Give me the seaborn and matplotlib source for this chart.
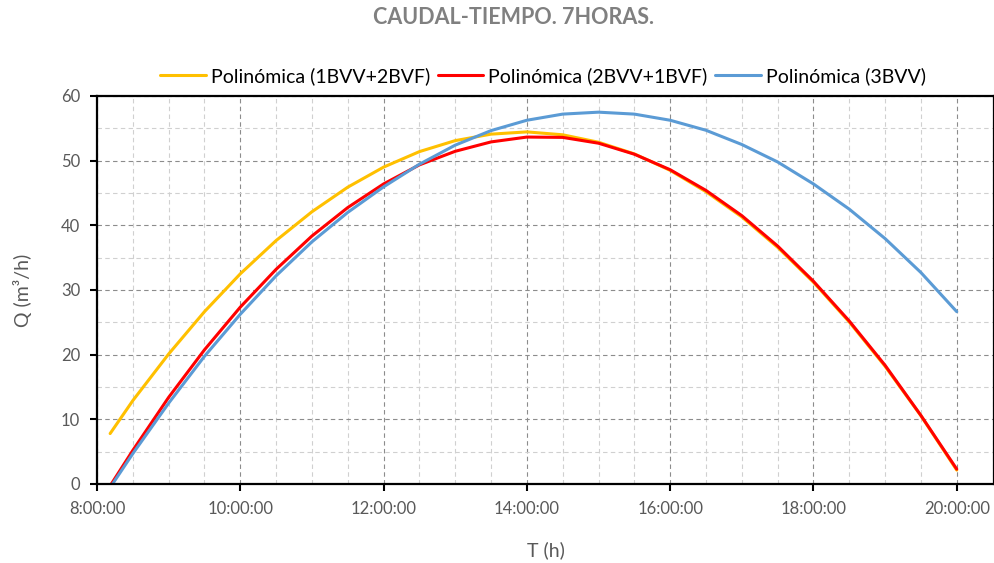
import matplotlib
matplotlib.use("Agg")
import matplotlib.pyplot as plt
import seaborn as sns
import pandas as pd
from matplotlib.ticker import MultipleLocator, FuncFormatter

# ---- data ----
half_hours = ["8:30", "9:00", "9:30", "10:00", "10:30", "11:00", "11:30", "12:00",
              "12:30", "13:00", "13:30", "14:00", "14:30", "15:00", "15:30", "16:00",
              "16:30", "17:00", "17:30", "18:00", "18:30", "19:00", "19:30", "20:00"]

start_1bvv = "8:11"
q_1bvv = [7.8, 12.9, 20.1, 26.65, 32.5, 37.65, 42.1, 45.9, 49.0, 51.4, 53.1, 54.1, 54.45,
          54.0, 52.85, 51.05, 48.5, 45.2, 41.3, 36.6, 31.2, 25.05, 18.2, 10.55, 2.15]

start_2bvv = "8:12"
q_2bvv = [0.0, 5.2, 13.4, 20.75, 27.35, 33.2, 38.35, 42.75, 46.4, 49.35, 51.45, 52.9, 53.65,
          53.6, 52.7, 51.0, 48.6, 45.4, 41.5, 36.8, 31.35, 25.2, 18.35, 10.6, 2.3]

start_3bvv = "8:13"
q_3bvv = [0.0, 4.7, 12.5, 19.75, 26.25, 32.2, 37.45, 42.0, 45.95, 49.45, 52.4, 54.65, 56.25,
          57.2, 57.5, 57.2, 56.25, 54.7, 52.5, 49.8, 46.4, 42.5, 37.95, 32.7, 26.65]

labels = ["Polinómica (1BVV+2BVF)", "Polinómica (2BVV+1BVF)", "Polinómica (3BVV)"]
colors = ["#FFC000", "#FF0000", "#5B9BD5"]


def to_hours(s):
    h, m = s.split(":")
    return int(h) + int(m) / 60.0


frames = []
for lab, start, vals in zip(labels, [start_1bvv, start_2bvv, start_3bvv],
                            [q_1bvv, q_2bvv, q_3bvv]):
    times = [start] + half_hours
    frames.append(pd.DataFrame({"T": [to_hours(t) for t in times], "Q": vals, "serie": lab}))
df = pd.concat(frames, ignore_index=True)

# ---- figure ----
sns.set_style("white")
plt.rcParams["font.family"] = ["Lato", "DejaVu Sans"]

fig = plt.figure(figsize=(9.95, 5.63), dpi=100)
ax = fig.add_axes([97 / 995, 1 - 484 / 563, (994 - 97) / 995, (484 - 96) / 563])

sns.lineplot(data=df, x="T", y="Q", hue="serie", palette=dict(zip(labels, colors)),
             hue_order=labels, linewidth=2.2, ax=ax, sort=False, estimator=None)

ax.set_xlim(8.0, 20.52)
ax.set_ylim(0, 60)

ax.xaxis.set_major_locator(MultipleLocator(2))
ax.xaxis.set_minor_locator(MultipleLocator(0.5))
ax.yaxis.set_major_locator(MultipleLocator(10))
ax.yaxis.set_minor_locator(MultipleLocator(5))
ax.xaxis.set_major_formatter(FuncFormatter(lambda v, p: f"{int(round(v))}:00:00"))

ax.grid(which="major", color="#8c8c8c", linestyle=(0, (4, 3)), linewidth=0.8)
ax.grid(which="minor", color="#d0d0d0", linestyle=(0, (4, 3)), linewidth=0.8)
ax.set_axisbelow(True)

for s in ax.spines.values():
    s.set_visible(True)
    s.set_color("black")
    s.set_linewidth(1.6)

ax.tick_params(which="major", direction="out", length=5, width=1.5, color="black",
               labelcolor="#595959", labelsize=12, bottom=True, left=True, pad=7)
ax.tick_params(which="minor", length=0)

ax.set_xlabel("T (h)", color="#595959", fontsize=14, labelpad=17.5)
ax.set_ylabel("Q (m³/h)", color="#595959", fontsize=14, labelpad=21)

leg = ax.legend(loc="center", bbox_to_anchor=(543 / 995, 1 - 76 / 563),
                bbox_transform=fig.transFigure, ncol=3, frameon=False,
                fontsize=14, handlelength=2.35, columnspacing=0.37, handletextpad=0.27)
for t in leg.get_texts():
    t.set_color("black")
for h in leg.get_lines():
    h.set_linewidth(2.2)

fig.text(514 / 995, 1 - 18 / 563, "CAUDAL-TIEMPO. 7HORAS.", ha="center", va="center",
         fontsize=15.5, fontweight="bold", color="#808080")

fig.savefig("out.png", dpi=100)
